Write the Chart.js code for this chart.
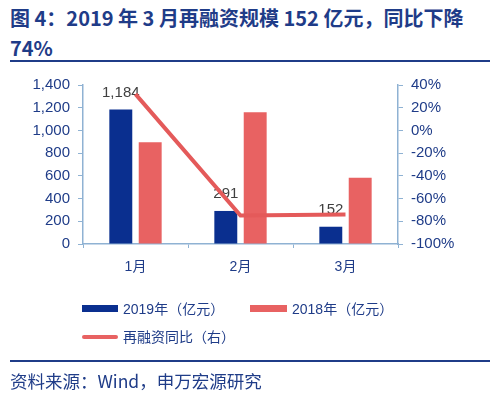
<!DOCTYPE html>
<html><head><meta charset="utf-8">
<script src="https://cdn.jsdelivr.net/npm/chart.js@4"></script>
<style>
html,body{margin:0;padding:0;background:#fff;}
#wrap{position:relative;width:500px;height:398px;overflow:hidden;font-family:"Liberation Sans","Noto Sans CJK SC",sans-serif;}
canvas{position:absolute;left:0;top:0;}
.t{position:absolute;white-space:nowrap;}
#title{left:10px;top:3px;font-family:"Noto Sans CJK SC","Liberation Sans",sans-serif;font-weight:bold;font-size:20px;line-height:30px;color:#1F3C88;}
.hr{position:absolute;left:10px;width:480px;height:2px;background:#1F3C88;}
.leg{position:absolute;font-size:14px;color:#1F3C88;line-height:16px;}
.sw{position:absolute;}
#src{left:10px;top:369px;font-family:"Noto Sans CJK SC","Liberation Sans",sans-serif;font-size:17.5px;line-height:24px;color:#1F3C88;}
</style></head>
<body><div id="wrap">
<div id="title" class="t">图 4：2019 年 3 月再融资规模 152 亿元，同比下降<br>74%</div>
<div class="hr" style="top:60px"></div>
<canvas id="c" width="500" height="398"></canvas>
<div class="sw" style="left:82px;top:305px;width:36px;height:7px;background:#0A2F8F"></div>
<div class="leg t" style="left:123px;top:301px">2019年（亿元）</div>
<div class="sw" style="left:250px;top:305px;width:37px;height:7px;background:#E86262"></div>
<div class="leg t" style="left:292px;top:301px">2018年（亿元）</div>
<div class="sw" style="left:82px;top:335px;width:36px;height:4px;background:#E86262;border-radius:2px"></div>
<div class="leg t" style="left:123px;top:329px">再融资同比（右）</div>
<div class="hr" style="top:360px"></div>
<div id="src" class="t">资料来源：Wind，申万宏源研究</div>
</div>
<script>
const categories = ["1月", "2月", "3月"];
const values2019 = [1184, 291, 152];
const values2018 = [895, 1160, 584];
const yoyPct = [32, -75, -74];
const leftTicks = [0, 200, 400, 600, 800, 1000, 1200, 1400];
const rightTicks = [-100, -80, -60, -40, -20, 0, 20, 40];

const navy = "#0A2F8F", salmon = "#E86262", axisC = "#8FB2D3", tickC = "#1F3C88";
const fontFam = '"Liberation Sans","Noto Sans CJK SC",sans-serif';

const labelPlugin = {
  id: "barLabels",
  afterDatasetDraw(chart, args) {
    if (args.index !== 0) return;
    const ctx = chart.ctx;
    ctx.save();
    ctx.font = "15px " + fontFam;
    ctx.fillStyle = "#404040";
    ctx.textAlign = "center";
    ctx.textBaseline = "middle";
    args.meta.data.forEach((el, i) => {
      ctx.fillText(values2019[i].toLocaleString("en-US"), el.x, el.y - 17);
    });
    ctx.restore();
  }
};

new Chart(document.getElementById("c"), {
  type: "bar",
  data: {
    labels: categories,
    datasets: [
      { label: "2019年（亿元）", data: values2019, backgroundColor: navy, yAxisID: "y", order: 1,
        categoryPercentage: 0.56, barPercentage: 0.78 },
      { label: "2018年（亿元）", data: values2018, backgroundColor: salmon, yAxisID: "y", order: 1,
        categoryPercentage: 0.56, barPercentage: 0.78 },
      { type: "line", label: "再融资同比（右）", data: yoyPct, borderColor: "#E45A5A", borderWidth: 4,
        pointRadius: 0, yAxisID: "y1", order: 0, tension: 0, borderCapStyle: "butt" }
    ]
  },
  options: {
    responsive: false, animation: false, devicePixelRatio: 1,
    layout: { padding: { left: 0, right: 0, top: 85, bottom: 124 } },
    plugins: { legend: { display: false }, tooltip: { enabled: false } },
    scales: {
      x: {
        offset: true,
        grid: { offset: true, drawOnChartArea: false, color: axisC, tickLength: 4 },
        border: { color: axisC, width: 1.5 },
        ticks: { color: tickC, font: { size: 14, family: fontFam }, padding: 11 },
        afterFit(s) { s.height = 30; }
      },
      y: {
        position: "left", min: 0, max: 1400,
        afterBuildTicks(s) { s.ticks = leftTicks.map(v => ({ value: v })); },
        grid: { drawOnChartArea: false, color: axisC, tickLength: 5 },
        border: { color: axisC, width: 1.5 },
        ticks: { color: tickC, font: { size: 15, family: fontFam }, padding: 8,
          callback: v => v.toLocaleString("en-US") },
        afterFit(s) { s.width = 83; }
      },
      y1: {
        position: "right", min: -100, max: 40,
        afterBuildTicks(s) { s.ticks = rightTicks.map(v => ({ value: v })); },
        grid: { drawOnChartArea: false, color: axisC, tickLength: 5 },
        border: { color: axisC, width: 1.5 },
        ticks: { color: tickC, font: { size: 15, family: fontFam }, padding: 8,
          callback: v => v + "%" },
        afterFit(s) { s.width = 102; }
      }
    }
  },
  plugins: [labelPlugin]
});
</script>
</body></html>
